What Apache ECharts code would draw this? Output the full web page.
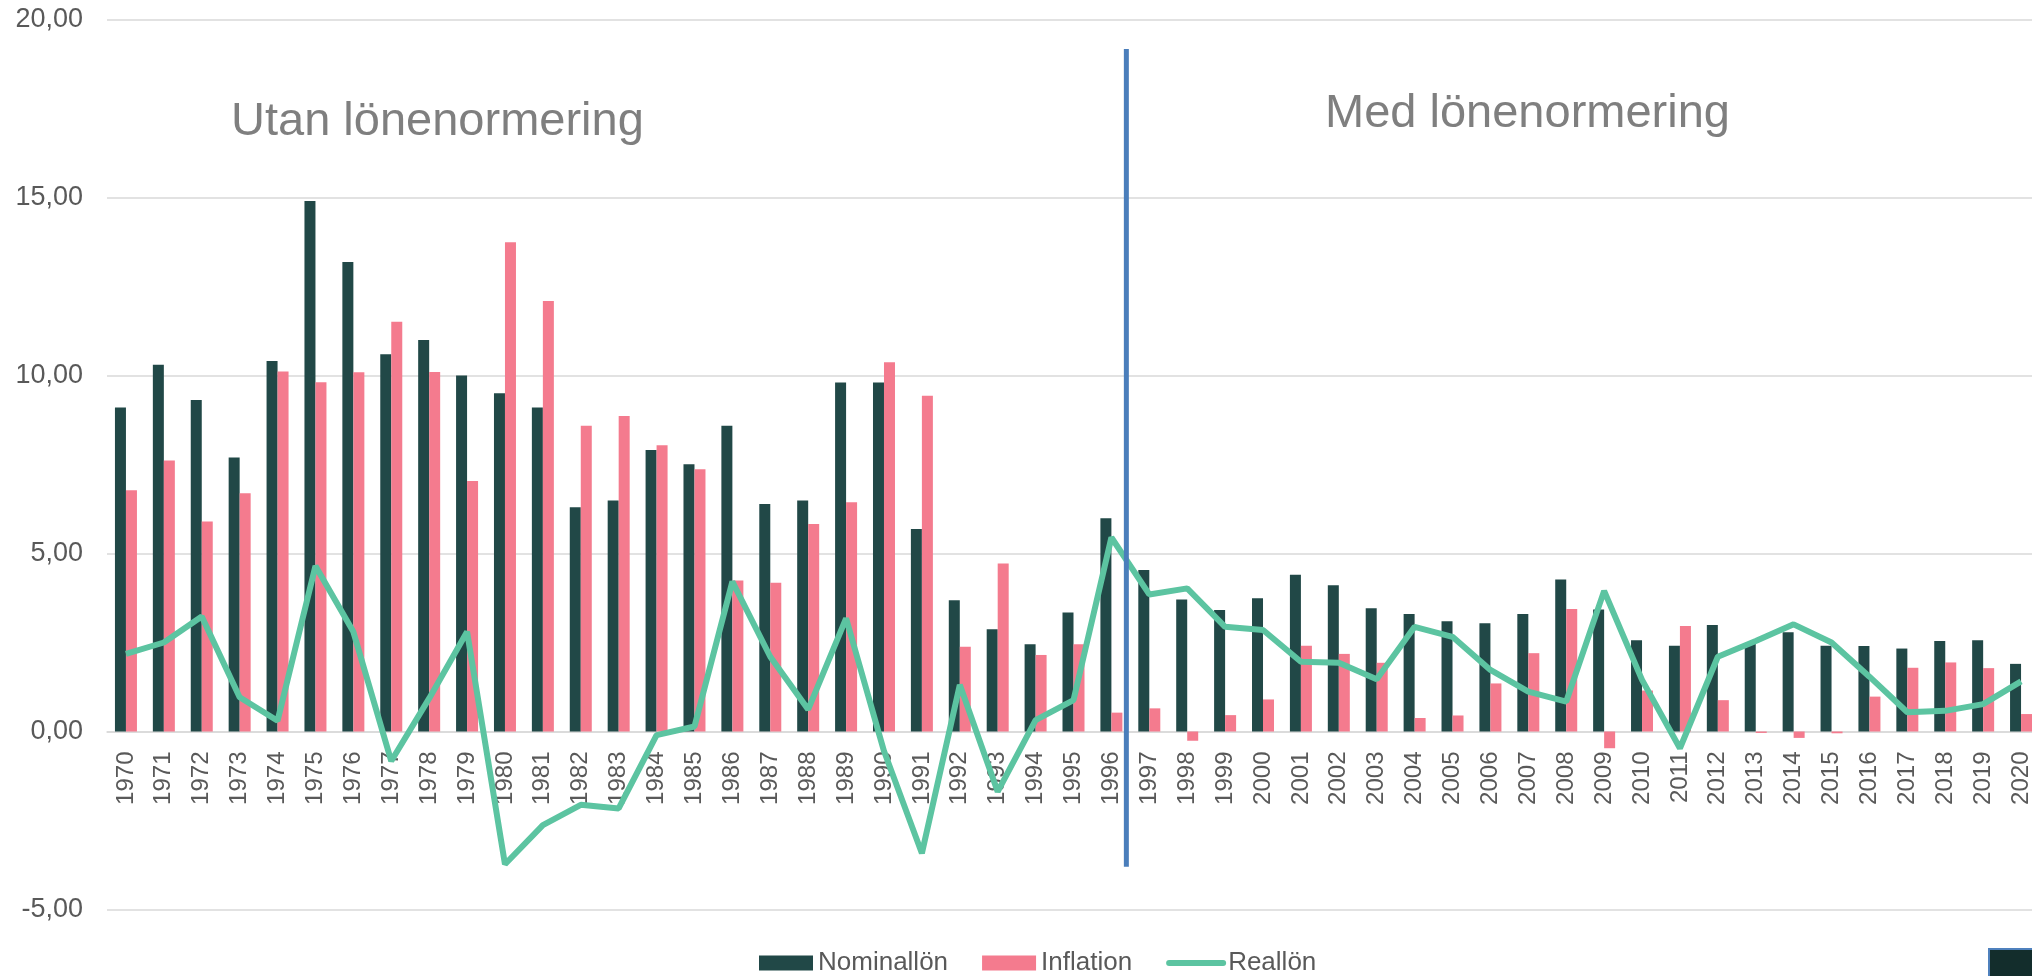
<!DOCTYPE html>
<html>
<head>
<meta charset="utf-8">
<script src="https://cdn.jsdelivr.net/npm/echarts@6/dist/echarts.min.js"></script>
<style>
html,body{margin:0;padding:0;background:#fff;overflow:hidden;}
#c{width:2040px;height:976px;}
</style>
</head>
<body>
<div id="c"></div>
<script>
const years = ['1970','1971','1972','1973','1974','1975','1976','1977','1978','1979','1980','1981','1982','1983','1984','1985','1986','1987','1988','1989','1990','1991','1992','1993','1994','1995','1996','1997','1998','1999','2000','2001','2002','2003','2004','2005','2006','2007','2008','2009','2010','2011','2012','2013','2014','2015','2016','2017','2018','2019','2020'];
const nominallon = [9.10,10.30,9.31,7.70,10.41,14.90,13.19,10.60,11.00,10.00,9.50,9.10,6.30,6.49,7.91,7.51,8.59,6.39,6.49,9.80,9.80,5.69,3.69,2.87,2.45,3.34,5.99,4.54,3.71,3.41,3.74,4.40,4.11,3.46,3.30,3.10,3.04,3.30,4.27,3.43,2.56,2.41,2.99,2.46,2.79,2.41,2.40,2.33,2.54,2.56,1.90];
const inflation = [6.78,7.61,5.90,6.69,10.11,9.81,10.09,11.51,10.10,7.04,13.74,12.09,8.59,8.86,8.04,7.37,4.24,4.18,5.83,6.44,10.37,9.43,2.38,4.72,2.15,2.45,0.53,0.65,-0.26,0.46,0.90,2.41,2.18,1.93,0.38,0.45,1.35,2.20,3.44,-0.47,1.15,2.96,0.88,-0.04,-0.18,-0.05,0.98,1.79,1.94,1.78,0.49];
const reallon = [2.18,2.50,3.23,0.96,0.30,4.65,2.80,-0.83,0.93,2.80,-3.73,-2.63,-2.06,-2.16,-0.10,0.14,4.21,2.10,0.62,3.18,-0.55,-3.42,1.31,-1.69,0.32,0.88,5.45,3.85,4.02,2.94,2.85,1.96,1.93,1.47,2.94,2.66,1.73,1.12,0.84,3.95,1.45,-0.47,2.10,2.54,3.01,2.50,1.54,0.54,0.58,0.77,1.41];
const yTicks = {min:-5, max:20, interval:5};
const seriesNames = ['Nominallön','Inflation','Reallön'];
const periodLabels = ['Utan lönenormering','Med lönenormering'];

const FONT = '"Liberation Sans", Arial, sans-serif';
const GRID = {left:107, right:0, top:19.5, bottom:66.5};
const gridH = 976 - GRID.top - GRID.bottom;
// place category axis on the zero line
const zeroOffset = -(0 - yTicks.min) / (yTicks.max - yTicks.min) * gridH;

const chart = echarts.init(document.getElementById('c'), null, {renderer:'canvas'});
chart.setOption({
  animation:false,
  backgroundColor:'#ffffff',
  grid:Object.assign({containLabel:false}, GRID),
  legend:{
    left:754, top:945,
    itemWidth:54, itemHeight:15, itemGap:34,
    textStyle:{fontFamily:FONT, fontSize:26, color:'#595959'},
    data:[
      {name:seriesNames[0], icon:'rect'},
      {name:seriesNames[1], icon:'rect'},
      {name:seriesNames[2], itemStyle:{opacity:0}, lineStyle:{width:6, cap:'round', color:'#5cc4a1'}}
    ]
  },
  xAxis:{
    type:'category', data:years, position:'bottom', offset:zeroOffset,
    axisLine:{show:true, onZero:false, lineStyle:{color:'#d9d9d9', width:1.5}},
    axisTick:{show:false},
    axisLabel:{rotate:90, margin:20, interval:0, fontFamily:FONT, fontSize:24, color:'#595959'}
  },
  yAxis:{
    type:'value', min:yTicks.min, max:yTicks.max, interval:yTicks.interval,
    axisLine:{show:false}, axisTick:{show:false},
    splitLine:{lineStyle:{color:'#d9d9d9', width:1.5}},
    axisLabel:{margin:24, fontFamily:FONT, fontSize:27, color:'#595959',
      formatter:v=>v.toFixed(2).replace('.',',')}
  },
  series:[
    {name:seriesNames[0], type:'bar', data:nominallon, barWidth:11, barGap:'0%',
     itemStyle:{color:'#214847'}},
    {name:seriesNames[1], type:'bar', data:inflation, barWidth:11,
     itemStyle:{color:'#f47b8e'}},
    {name:seriesNames[2], type:'line', data:reallon, symbol:'none', showSymbol:false,
     z:5, lineStyle:{color:'#5cc4a1', width:6}, itemStyle:{color:'#5cc4a1'}}
  ]
});

// divider between 1996 and 1997, plus period labels
const p96 = chart.convertToPixel({xAxisIndex:0, yAxisIndex:0}, ['1996', 19.17]);
const p97 = chart.convertToPixel({xAxisIndex:0, yAxisIndex:0}, ['1997', -3.8]);
const divX = (p96[0] + p97[0]) / 2 - 4;
chart.setOption({
  graphic:[
    {type:'line', shape:{x1:divX, y1:p96[1], x2:divX, y2:p97[1]},
     style:{stroke:'#4a7ebb', lineWidth:5}, z:10},
    {type:'text', left:231, top:99, style:{text:periodLabels[0], font:'47px '+FONT, fill:'#7f7f7f'}},
    {type:'text', left:1325, top:91, style:{text:periodLabels[1], font:'47px '+FONT, fill:'#7f7f7f'}},
    {type:'rect', shape:{x:1989, y:949, width:60, height:40},
     style:{fill:'#132d2c', stroke:'#4f81bd', lineWidth:2}}
  ]
});
</script>
</body>
</html>
